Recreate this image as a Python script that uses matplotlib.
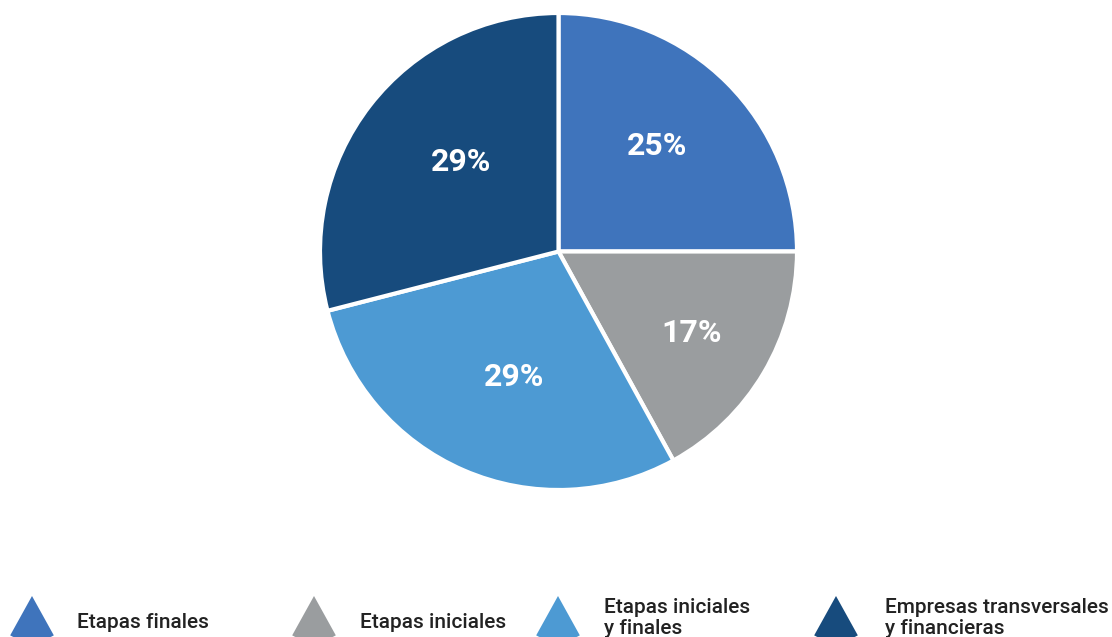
import numpy as np
import matplotlib.pyplot as plt
from matplotlib.patches import Wedge

plt.rcParams['font.family'] = ['Roboto', 'DejaVu Sans']

categorias = ['Etapas finales', 'Etapas iniciales', 'Etapas iniciales\ny finales',
              'Empresas transversales\ny financieras']
porcentajes = [25, 17, 29, 29]
colores = ['#3f74bc', '#9a9d9f', '#4d9ad3', '#174b7d']

W, H = 1112, 637
fig = plt.figure(figsize=(W / 100, H / 100), dpi=100)

# pie: centre at (558, 251) px from top-left, radius ~238 px
cx, cy, r = 558.5, 251.5, 238.5
half = 250
ax = fig.add_axes([(cx - half) / W, (H - cy - half) / H, 2 * half / W, 2 * half / H])
wedges, texts, autotexts = ax.pie(
    porcentajes, colors=colores, startangle=90, counterclock=False,
    autopct=lambda p: '%d%%' % round(p), pctdistance=0.6,
    wedgeprops=dict(edgecolor='white', linewidth=3),
    textprops=dict(color='white', fontsize=23, fontweight='bold'))

# nudge each percentage label (radial distance, angle offset in degrees)
dist = [0.605, 0.655, 0.56, 0.555]
giro = [2, -1, 4, -4.7]
for w, t, d, g in zip(wedges, autotexts, dist, giro):
    ang = np.deg2rad((w.theta1 + w.theta2) / 2 + g)
    t.set_position((d * np.cos(ang), d * np.sin(ang)))

lim = half / r
ax.set_xlim(-lim, lim)
ax.set_ylim(-lim, lim)
ax.set_aspect('equal')
ax.axis('off')

# legend row along the bottom, drawn in pixel coordinates
lg = fig.add_axes([0, 0, 1, 1])
lg.set_xlim(0, W)
lg.set_ylim(H, 0)
lg.axis('off')

marca_x = [32, 314, 558, 836]
texto_x = [77, 360, 604, 885]
for mx, tx, nombre, c in zip(marca_x, texto_x, categorias, colores):
    lg.add_patch(Wedge((mx, 596), 45, 61, 119, facecolor=c, edgecolor='none'))
    ty = 618 if '\n' in nombre else 622
    lg.text(tx, ty, nombre, fontsize=15, fontweight='medium', color='#222222',
            va='center', ha='left', linespacing=1.1)

fig.savefig('out.png', dpi=100)
